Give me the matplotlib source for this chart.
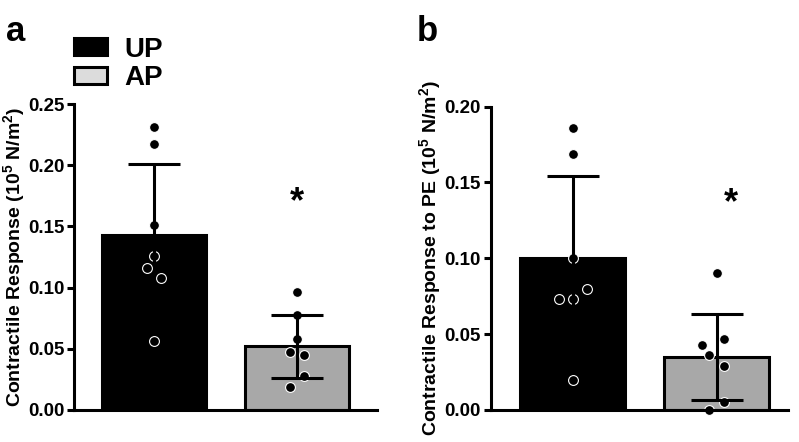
import numpy as np
import matplotlib
matplotlib.use("Agg")
import matplotlib.pyplot as plt
from matplotlib.patches import Patch

plt.rcParams["font.family"] = ["Liberation Sans", "DejaVu Sans"]
plt.rcParams["font.weight"] = "bold"
plt.rcParams["mathtext.fontset"] = "custom"
plt.rcParams["mathtext.rm"] = "Liberation Sans:bold"
plt.rcParams["mathtext.bf"] = "Liberation Sans:bold"

groups = ["UP", "AP"]
bar_colors = ["#000000", "#a8a8a8"]
legend_colors = ["#000000", "#dcdcdc"]

# panel a: contractile response (10^5 N/m^2)
a_means = [0.143, 0.052]
a_sd = [0.058, 0.026]
a_up = [0.231, 0.217, 0.151, 0.126, 0.116, 0.108, 0.056]
a_up_dx = [0.0, 0.0, 0.0, 0.0, -0.05, 0.05, 0.0]
a_ap = [0.096, 0.078, 0.058, 0.047, 0.045, 0.028, 0.019]
a_ap_dx = [0.0, 0.0, 0.0, -0.05, 0.05, 0.05, -0.05]

# panel b: contractile response to PE
b_means = [0.100, 0.035]
b_sd = [0.0545, 0.0285]
b_up = [0.186, 0.169, 0.100, 0.080, 0.073, 0.073, 0.020]
b_up_dx = [0.0, 0.0, 0.0, 0.1, -0.1, 0.0, 0.0]
b_ap = [0.090, 0.047, 0.043, 0.036, 0.029, 0.005, 0.0]
b_ap_dx = [0.0, 0.05, -0.1, -0.05, 0.05, 0.05, -0.05]


def draw_panel(ax, means, sd, up, up_dx, ap, ap_dx, ymax, ticks, xlim, ylabel, star_xy):
    x = np.arange(len(groups))
    ax.bar(x, means, width=0.73, color=bar_colors, edgecolor="black",
           linewidth=2.2, zorder=1)
    for xi, pts, dx in [(0, up, up_dx), (1, ap, ap_dx)]:
        ax.scatter(xi + np.array(dx), pts, s=50, color="black",
                   edgecolor="white", linewidth=0.8, zorder=2, clip_on=False)
    ax.errorbar(x, means, yerr=sd, fmt="none", ecolor="black",
                elinewidth=2.2, capsize=18.5, capthick=2.2, zorder=3)
    ax.text(star_xy[0], star_xy[1], "*", ha="center", va="center",
            fontsize=26, fontweight="bold")
    ax.set_xlim(*xlim)
    ax.set_ylim(0, ymax)
    ax.set_yticks(ticks)
    ax.set_yticklabels([f"{t:.2f}" for t in ticks])
    ax.set_xticks([])
    for s in ["top", "right"]:
        ax.spines[s].set_visible(False)
    for s in ["left", "bottom"]:
        ax.spines[s].set_linewidth(2.2)
    ax.tick_params(axis="y", width=2.2, length=5, labelsize=13.5, pad=2)
    ax.set_ylabel(ylabel, fontsize=14, fontweight="bold", labelpad=0)


fig = plt.figure(figsize=(7.99, 4.42), dpi=100)
ax1 = fig.add_axes([0.0926, 0.0724, 0.3792, 0.6923])
ax2 = fig.add_axes([0.614, 0.0724, 0.372, 0.6863])

draw_panel(ax1, a_means, a_sd, a_up, a_up_dx, a_ap, a_ap_dx, 0.25,
           [0.0, 0.05, 0.10, 0.15, 0.20, 0.25], (-0.56, 1.56),
           r"Contractile Response (10$^{5}$ N/m$^{2}$)", (1.0, 0.169))
draw_panel(ax2, b_means, b_sd, b_up, b_up_dx, b_ap, b_ap_dx, 0.20,
           [0.0, 0.05, 0.10, 0.15, 0.20], (-0.573, 1.495),
           r"Contractile Response to PE (10$^{5}$ N/m$^{2}$)", (1.1, 0.136))

fig.text(0.008, 0.965, "a", fontsize=25, fontweight="bold", va="top")
fig.text(0.522, 0.965, "b", fontsize=25, fontweight="bold", va="top")

handles = [Patch(facecolor=c, edgecolor="black", linewidth=2.2) for c in legend_colors]
fig.legend(handles, groups, loc="upper left", bbox_to_anchor=(0.0712, 0.955),
           frameon=False, handlelength=1.22, handleheight=0.55,
           handletextpad=0.6, labelspacing=0.1, borderpad=0.1,
           prop={"weight": "bold", "size": 20})

fig.savefig("out.png", dpi=100)
